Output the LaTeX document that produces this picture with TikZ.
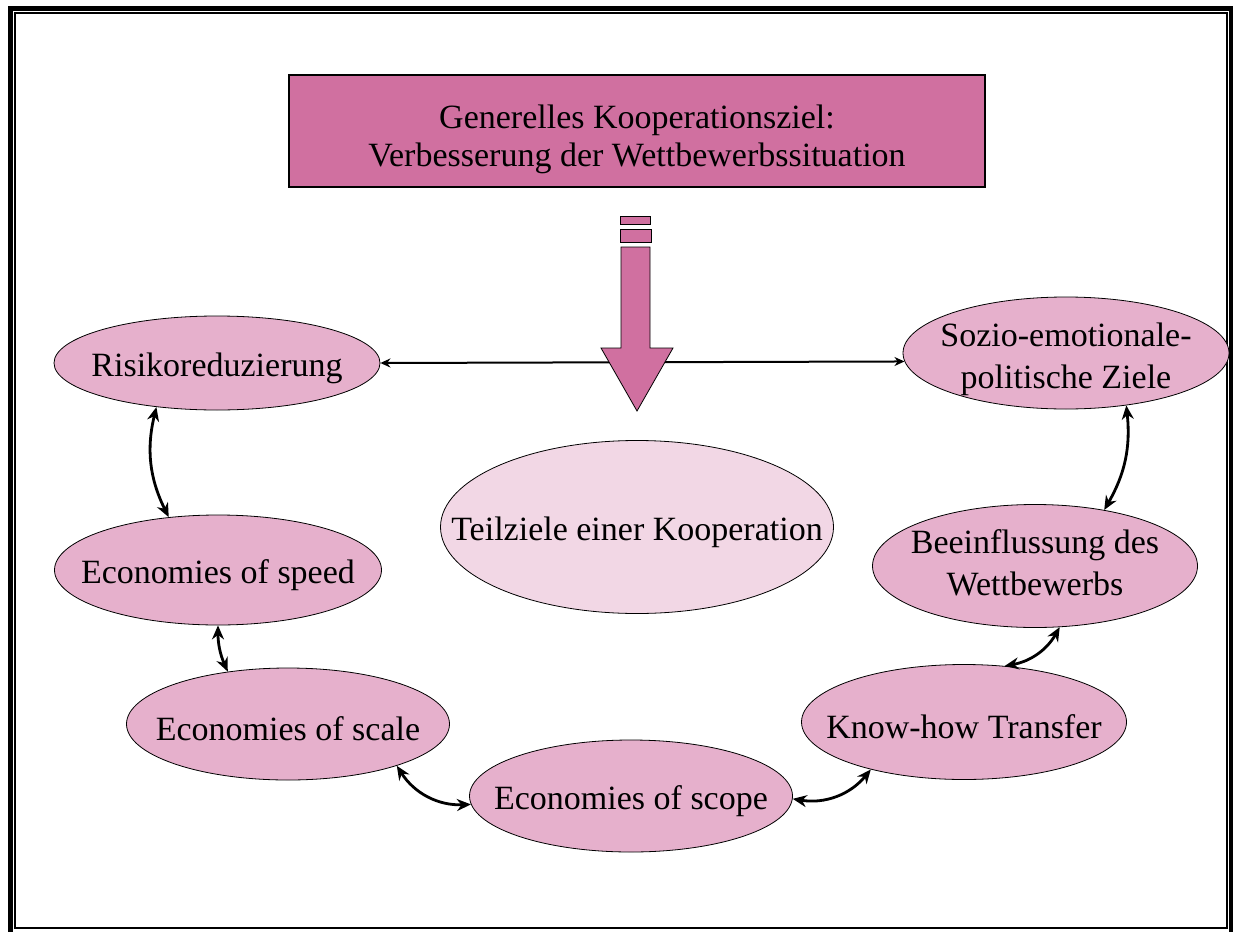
\documentclass[tikz,border=0pt]{standalone}
\usepackage{fontspec}
\setmainfont{Liberation Serif}
\usetikzlibrary{shapes.geometric,arrows.meta}
\definecolor{titlepink}{RGB}{208,112,160}
\definecolor{ovalpink}{RGB}{230,176,204}
\definecolor{lightpink}{RGB}{242,215,229}
\begin{document}
\begin{tikzpicture}[x=1pt,y=-1pt,
  oval/.style={ellipse, draw=black, line width=0.8pt, fill=ovalpink, inner sep=0pt},
  txt/.style={font=\fontsize{34}{42}\selectfont, align=center, inner sep=0pt, yshift=-5pt},
  link/.style={line width=2.8pt, {Stealth[length=14pt,width=12pt]}-{Stealth[length=14pt,width=12pt]}},
  hline/.style={line width=2pt, {Stealth[length=10pt,width=9pt]}-{Stealth[length=10pt,width=9pt]}},
  bigarrow/.style={fill=titlepink, draw=black, line width=0.8pt, line join=miter}
]
\useasboundingbox (0,0) rectangle (1233,931);
% frame
\draw[line width=5pt] (10.5,8.5) rectangle (1231,940);
\draw[line width=2pt] (15,13.5) rectangle (1227,928);

% title box
\node[draw=black, line width=1.2pt, fill=titlepink, minimum width=696pt, minimum height=112pt,
      label={[txt, font=\fontsize{34}{38}\selectfont, yshift=-3pt]center:{Generelles Kooperationsziel:\\Verbesserung der Wettbewerbssituation}}]
      (title) at (637,131) {};

% ellipses
\node[oval, minimum width=326pt, minimum height=94pt, label={[txt]center:Risikoreduzierung}] (risk) at (217,363) {};
\node[oval, minimum width=326pt, minimum height=112pt, label={[txt, yshift=-1pt]center:{Sozio-emotionale-\\politische Ziele}}] (sozio) at (1066,353) {};
\node[oval, fill=lightpink, minimum width=393pt, minimum height=173pt, label={[txt]center:Teilziele einer Kooperation}] (teil) at (637,527) {};
\node[oval, minimum width=327pt, minimum height=110pt, label={[txt]center:Economies of speed}] (speed) at (218,570) {};
\node[oval, minimum width=325pt, minimum height=123pt, label={[txt, yshift=8pt]center:{Beeinflussung des\\Wettbewerbs}}] (beein) at (1035,566) {};
\node[oval, minimum width=323pt, minimum height=112pt, label={[txt]center:Economies of scale}] (scale) at (288,724) {};
\node[oval, minimum width=325pt, minimum height=115pt, label={[txt]center:Know-how Transfer}] (know) at (964,722) {};
\node[oval, minimum width=323pt, minimum height=112pt, label={[txt]center:Economies of scope}] (scope) at (631,796) {};

% horizontal connector
\draw[hline] (risk.east) -- (sozio.183.6);

% big arrow
\draw[bigarrow] (620,216) rectangle (650,224);
\draw[bigarrow] (620,229) rectangle (651,242);
\draw[bigarrow] (621,247) -- (650,247) -- (650,348) -- (673,348) -- (637,411) -- (601,348) -- (621,348) -- cycle;

% curved connectors
\draw[link] (risk.-144) to[bend right=20] (speed.133.5);
\draw[link] (speed.-90) to[bend right=12] (scale.139);
\draw[link] (scale.-21.6) to[bend right=30] (scope.-177.5);
\draw[link] (scope.-1.4) to[bend right=30] (know.-153);
\draw[link] (know.54.3) to[bend right=25] (beein.-68);
\draw[link] (beein.39.8) to[bend right=18] (sozio.-41.3);
\end{tikzpicture}
\end{document}
